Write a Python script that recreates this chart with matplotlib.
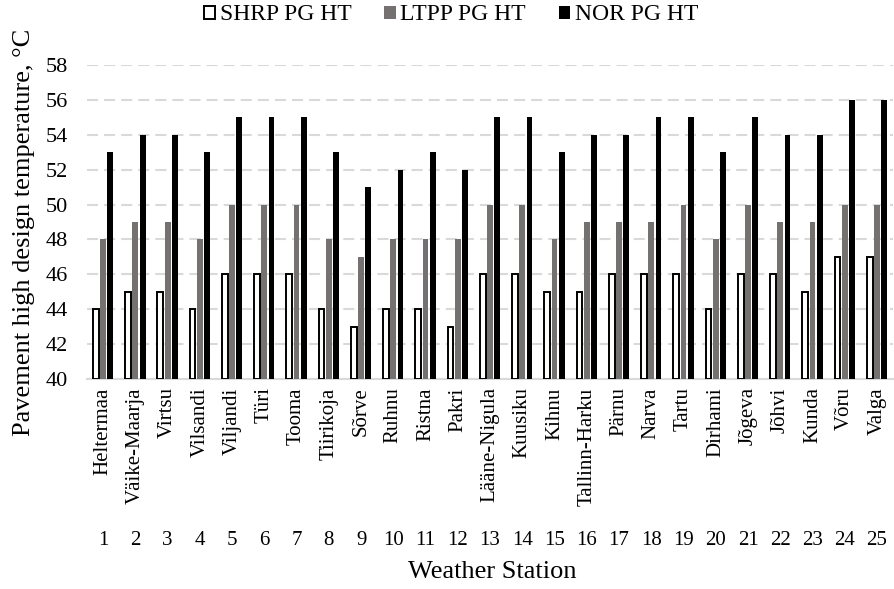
import numpy as np
import matplotlib
matplotlib.use("Agg")
import matplotlib.pyplot as plt
from matplotlib.patches import Patch
import matplotlib.transforms as mtransforms

# Weather stations (number + name) and PG high temperature grades, °C
station_no = list(range(1, 26))
station_names = ["Heltermaa", "Väike-Maarja", "Virtsu", "Vilsandi", "Viljandi",
                 "Türi", "Tooma", "Tiirikoja", "Sõrve", "Ruhnu", "Ristna", "Pakri",
                 "Lääne-Nigula", "Kuusiku", "Kihnu", "Tallinn-Harku", "Pärnu",
                 "Narva", "Tartu", "Dirhami", "Jõgeva", "Jõhvi", "Kunda", "Võru",
                 "Valga"]
shrp_ht = [44, 45, 45, 44, 46, 46, 46, 44, 43, 44, 44, 43, 46,
           46, 45, 45, 46, 46, 46, 44, 46, 46, 45, 47, 47]
ltpp_ht = [48, 49, 49, 48, 50, 50, 50, 48, 47, 48, 48, 48, 50,
           50, 48, 49, 49, 49, 50, 48, 50, 49, 49, 50, 50]
nor_ht = [53, 54, 54, 53, 55, 55, 55, 53, 51, 52, 53, 52, 55,
          55, 53, 54, 54, 55, 55, 53, 55, 54, 54, 56, 56]
y_ticks = list(range(40, 59, 2))

plt.rcParams['font.family'] = ['Liberation Serif', 'DejaVu Serif']

fig = plt.figure(figsize=(8.94, 5.89), dpi=100)
ax = fig.add_axes([0.0973, 0.3565, 0.9017, 0.5331])

x = np.arange(len(station_no))
w = 0.18
off = 0.225
base = 40
ax.bar(x - off, np.array(shrp_ht) - base, w, bottom=base, facecolor='white',
       edgecolor='black', linewidth=1.4, zorder=3)
ax.bar(x, np.array(ltpp_ht) - base, w, bottom=base, color='#767171', zorder=3)
ax.bar(x + off, np.array(nor_ht) - base, w, bottom=base, color='black', zorder=3)

ax.set_xlim(-0.5, len(x) - 0.5)
ax.set_ylim(40, 58)
ax.set_yticks(y_ticks)
ax.tick_params(axis='y', length=0, labelsize=16, pad=14)
ax.yaxis.grid(True, color='#d9d9d9', linestyle=(0, (5.3, 2.9)), linewidth=1.5,
              zorder=0)
for s in ['top', 'right', 'left']:
    ax.spines[s].set_visible(False)
ax.spines['bottom'].set_color('#d9d9d9')
ax.spines['bottom'].set_linewidth(1.5)

ax.set_xticks(x)
ax.set_xticklabels(station_names, rotation=90, fontsize=15, va='top')
ax.tick_params(axis='x', length=0, pad=6)

# station numbers below the names
trans = mtransforms.blended_transform_factory(ax.transData, ax.transAxes)
for xi, n in zip(x, station_no):
    ax.text(xi, -0.513, str(n), transform=trans, ha='center', va='center',
            fontsize=15)

fig.text(0.027, 1 - 232 / 589, "Pavement high design temperature, °C",
         rotation=90, ha='center', va='center', fontsize=19)
fig.text(492 / 894, 1 - 572 / 589, "Weather Station", ha='center',
         va='center', fontsize=19)

handles = [Patch(facecolor='white', edgecolor='black', linewidth=1.4),
           Patch(facecolor='#767171'),
           Patch(facecolor='black')]
fig.legend(handles, ["SHRP PG HT", "LTPP PG HT", "NOR PG HT"],
           loc='center', bbox_to_anchor=(451 / 894, 1 - 15 / 589), ncol=3,
           frameon=False, fontsize=17, handlelength=0.47, handleheight=0.47,
           handletextpad=0.2, columnspacing=1.4, borderpad=0)

fig.savefig("out.png", dpi=100)
